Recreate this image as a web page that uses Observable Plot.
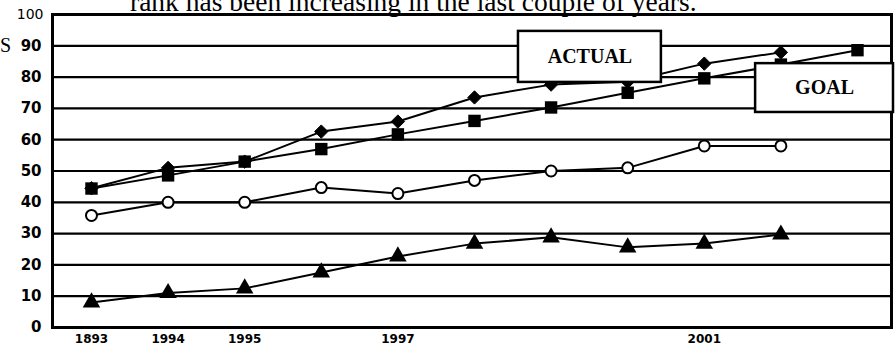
<!DOCTYPE html>
<html>
<head>
<meta charset="utf-8">
<script src="https://cdn.jsdelivr.net/npm/d3@7"></script>
<script src="https://cdn.jsdelivr.net/npm/@observablehq/plot@0.6"></script>
<style>
  html, body { margin: 0; padding: 0; background: #fff; overflow: hidden; }
  #wrap { position: relative; width: 896px; height: 354px; }
  #title { position: absolute; left: 130px; top: -12px; font: 27.5px/27px "Liberation Serif", serif; color: #000; white-space: nowrap; }
  #side { position: absolute; left: 0px; top: 35px; font: 20px/20px "Liberation Serif", serif; color: #000; }
  #chart { position: absolute; left: 0; top: 0; }
</style>
</head>
<body>
<div id="wrap">
  <div id="chart"></div>
  <div id="title">rank has been increasing in the last couple of years.</div>
  <div id="side">S</div>
</div>
<script>
// ---- data ----
const years = [1993, 1994, 1995, 1996, 1997, 1998, 1999, 2000, 2001, 2002, 2003];
const actual = [44.5, 51, 53, 62.6, 65.8, 73.5, 77.6, 78.5, 84.3, 87.9];
const goal = [44.4, 48.6, 53, 57, 61.7, 66, 70.3, 75, 79.6, 84, 88.6];
const circles = [35.8, 40, 40, 44.7, 42.8, 47, 50, 51, 58, 58];
const triangles = [8, 11, 12.5, 17.6, 22.7, 26.8, 28.8, 25.6, 26.8, 29.7];
const yTicks = [0, 10, 20, 30, 40, 50, 60, 70, 80, 90, 100];
const xTickYears = [1993, 1994, 1995, 1997, 2001];
const xTickLabels = ["1893", "1994", "1995", "1997", "2001"];
const boxLabels = ["ACTUAL", "GOAL"];
const boxX1 = [1998.574, 2001.67];
const boxX2 = [2000.44, 2003.47];
const boxY1 = [78.3, 68.7];
const boxY2 = [94.6, 84.3];

const toRows = (vals) => vals.map((v, i) => ({year: years[i], value: v}));
const actualRows = toRows(actual);
const goalRows = toRows(goal);
const circleRows = toRows(circles);
const triRows = toRows(triangles);
const boxes = boxLabels.map((t, i) => ({text: t, x1: boxX1[i], x2: boxX2[i], y1: boxY1[i], y2: boxY2[i]}));
const xLabelRows = xTickYears.map((y, i) => ({year: y, label: xTickLabels[i]}));

const sans = "DejaVu Sans, sans-serif";
const serif = "Liberation Serif, serif";

const chart = Plot.plot({
  width: 896,
  height: 354,
  marginLeft: 52,
  marginRight: 5,
  marginTop: 14,
  marginBottom: 27,
  style: {background: "#fff", color: "#000"},
  x: {type: "linear", domain: [1992.491, 2003.444], axis: null},
  y: {domain: [0, 100], axis: null},
  marks: [
    Plot.ruleY(yTicks, {stroke: "#000", strokeWidth: 2.2}),
    Plot.frame({stroke: "#000", strokeWidth: 3}),
    Plot.text(yTicks.filter(d => d < 100), {y: d => d, text: d => String(d), frameAnchor: "left", textAnchor: "end", dx: -11,
      fontSize: 15, fontWeight: "bold", fontFamily: sans, fill: "#000"}),
    Plot.text([100], {y: d => d, text: d => String(d), frameAnchor: "left", textAnchor: "end", dx: -9,
      fontSize: 14, fontFamily: sans, fill: "#000"}),
    Plot.text(xLabelRows, {x: "year", text: "label", frameAnchor: "bottom", lineAnchor: "top", dy: 7,
      fontSize: 12, fontWeight: "bold", fontFamily: sans, fill: "#000"}),
    Plot.line(actualRows, {x: "year", y: "value", stroke: "#000", strokeWidth: 2}),
    Plot.line(goalRows, {x: "year", y: "value", stroke: "#000", strokeWidth: 2}),
    Plot.line(circleRows, {x: "year", y: "value", stroke: "#000", strokeWidth: 2}),
    Plot.line(triRows, {x: "year", y: "value", stroke: "#000", strokeWidth: 2}),
    Plot.dot(actualRows, {x: "year", y: "value", symbol: "diamond2", r: 6, fill: "#000", stroke: "#000", strokeWidth: 1}),
    Plot.dot(goalRows, {x: "year", y: "value", symbol: "square", r: 7, fill: "#000"}),
    Plot.dot(circleRows, {x: "year", y: "value", symbol: "circle", r: 5.5, fill: "#fff", stroke: "#000", strokeWidth: 2}),
    Plot.dot(triRows, {x: "year", y: "value", symbol: "triangle", r: 6.5, fill: "#000"}),
    Plot.rect(boxes, {x1: "x1", x2: "x2", y1: "y1", y2: "y2", fill: "#fff", stroke: "#000", strokeWidth: 2.5}),
    Plot.text(boxes, {x: d => (d.x1 + d.x2) / 2, y: d => (d.y1 + d.y2) / 2, text: "text", fontSize: 20, fontWeight: "bold", fontFamily: serif, fill: "#000"})
  ]
});
document.getElementById("chart").appendChild(chart);
</script>
</body>
</html>
